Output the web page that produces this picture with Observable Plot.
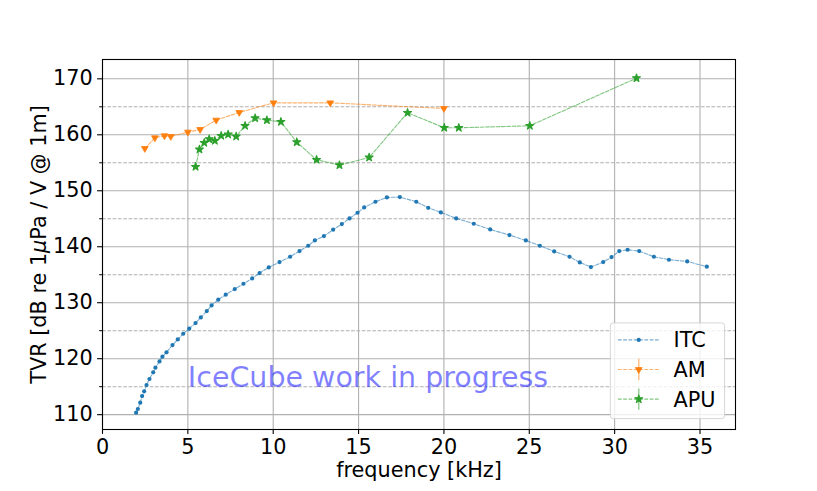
<!DOCTYPE html>
<html><head><meta charset="utf-8">
<script src="https://cdn.jsdelivr.net/npm/d3@7"></script>
<script src="https://cdn.jsdelivr.net/npm/@observablehq/plot@0.6"></script>
<style>html,body{margin:0;padding:0;background:#fff;} svg{display:block}</style>
</head><body><div id="chart"></div>
<script>
const itcFreq = [1.97,2.07,2.21,2.32,2.44,2.58,2.75,2.97,3.10,3.34,3.51,3.75,4.10,4.41,4.73,5.08,5.45,5.76,6.11,6.39,6.78,7.22,7.75,8.26,8.77,9.20,9.74,10.37,10.99,11.54,12.05,12.44,12.97,13.51,14.02,14.47,14.94,15.33,15.99,16.66,17.42,18.38,19.08,19.82,20.72,21.75,22.71,23.84,24.80,25.62,26.46,27.36,27.96,28.61,29.33,29.82,30.27,30.76,31.44,32.30,33.18,34.25,35.40];
const itcTVR = [110.36,111.01,112.14,113.33,114.17,115.30,116.37,117.56,118.39,119.52,120.36,121.13,122.44,123.45,124.46,125.36,126.37,127.38,128.51,129.52,130.54,131.43,132.44,133.39,134.34,135.30,136.31,137.26,138.21,139.22,140.18,141.13,141.90,143.04,144.05,145.06,146.07,147.02,148.04,148.81,148.87,148.04,146.96,146.13,145.06,144.11,143.09,142.08,141.13,140.18,139.17,138.21,137.20,136.37,137.26,138.15,139.22,139.46,139.22,138.21,137.68,137.38,136.43];
const amFreq = [2.48,3.07,3.63,4.00,5.00,5.72,6.66,8.01,10.02,13.34,20.00];
const amTVR = [157.56,159.46,159.82,159.70,160.48,160.95,162.62,163.99,165.71,165.71,164.70];
const apuFreq = [5.45,5.68,5.96,6.25,6.58,6.95,7.36,7.83,8.35,8.94,9.63,10.45,11.38,12.54,13.88,15.62,17.87,20.02,20.87,25.03,31.28];
const apuTVR = [154.29,157.38,158.57,159.23,158.93,159.82,160.06,159.70,161.61,162.98,162.62,162.32,158.69,155.54,154.58,155.95,163.93,161.25,161.25,161.61,170.12];
const xTicks = [0,5,10,15,20,25,30,35];
const yTicks = [110,120,130,140,150,160,170];
const yMinorTicks = [115,125,135,145,155,165];
const seriesNames = ["ITC","AM","APU"];
const seriesColors = ["#1f77b4","#ff7f0e","#2ca02c"];
const xLabel = "frequency [kHz]";
const yLabel = "TVR [dB re 1μPa / V @ 1m]";
const watermarkText = "IceCube work in progress";
const watermarkAt = [5, 115];

const itc = itcFreq.map((f,i)=>({f, v: itcTVR[i]}));
const am = amFreq.map((f,i)=>({f, v: amTVR[i]}));
const apu = apuFreq.map((f,i)=>({f, v: apuTVR[i]}));

const W=817, H=491, mL=102, mR=82, mT=59, mB=62;
const font = "DejaVu Sans, sans-serif";
const fs = 20.8;
const dash = "3.7,1.6";
const grid = "#b0b0b0";
const [cI, cA, cP] = seriesColors;

const chart = Plot.plot({
  width: W, height: H,
  marginLeft: mL, marginRight: mR, marginTop: mT, marginBottom: mB,
  style: {fontFamily: font, background: "white", color: "black", overflow: "visible"},
  x: {domain: [0, 37.08]},
  y: {domain: [107.35, 173.45]},
  marks: [
    Plot.ruleX(xTicks, {stroke: grid, strokeWidth: 1.1}),
    Plot.ruleY(yTicks, {stroke: grid, strokeWidth: 1.1}),
    Plot.ruleY(yMinorTicks, {stroke: grid, strokeWidth: 1.1, strokeDasharray: dash}),
    Plot.line(itc, {x: "f", y: "v", stroke: cI, strokeWidth: 1.1, strokeDasharray: dash, strokeOpacity: 0.6}),
    Plot.dot(itc, {x: "f", y: "v", fill: cI, r: 2.1}),
    Plot.line(am, {x: "f", y: "v", stroke: cA, strokeWidth: 1.1, strokeDasharray: dash, strokeOpacity: 0.6}),
    Plot.dot(am, {x: "f", y: "v", fill: cA, stroke: cA, strokeWidth: 0.8, symbol: "triangle", rotate: 180, r: 2.5}),
    Plot.line(apu, {x: "f", y: "v", stroke: cP, strokeWidth: 1.1, strokeDasharray: dash, strokeOpacity: 0.6}),
    Plot.dot(apu, {x: "f", y: "v", fill: cP, stroke: cP, strokeWidth: 1.1, strokeLinejoin: "round", symbol: "star", r: 2.5}),
    Plot.text([watermarkText], {x: () => watermarkAt[0], y: () => watermarkAt[1], text: d => d, textAnchor: "start", lineAnchor: "bottom", fontSize: 28.5, fill: "blue", fillOpacity: 0.5}),
    Plot.frame({stroke: "black", strokeWidth: 1.1}),
    Plot.axisX(xTicks, {tickSize: 4.9, tickPadding: 4.9, fontSize: fs, label: null, strokeWidth: 1.1}),
    Plot.axisY(yTicks, {tickSize: 4.9, tickPadding: 4.9, fontSize: fs, label: null, strokeWidth: 1.1}),
    Plot.axisY(yMinorTicks, {tickSize: 2.8, text: null, label: null, strokeWidth: 1}),
    Plot.text([xLabel], {frameAnchor: "bottom", dy: 47.2, lineAnchor: "bottom", textAnchor: "middle", fontSize: fs, text: d => d}),
    Plot.text([yLabel], {frameAnchor: "left", dx: -57, rotate: -90, lineAnchor: "bottom", textAnchor: "middle", fontSize: fs, text: d => d})
  ]
});

// italic mu in the y label (matplotlib mathtext)
d3.select(chart).selectAll("text").filter(function(){ return this.textContent === yLabel; }).each(function(){
  const t = d3.select(this);
  const parts = yLabel.split("μ");
  t.text(null);
  t.append("tspan").text(parts[0]);
  t.append("tspan").attr("font-style", "italic").text("μ");
  t.append("tspan").text(parts[1]);
});

// legend (lower right, inside axes)
const svg = d3.select(chart);
const frameR = W - mR, frameB = H - mB;
const pad = 10.4;
const bw = 114.3, bh = 95.7;
const bx = frameR - pad - bw, by = frameB - pad - bh;
const lg = svg.append("g").attr("font-family", font).attr("font-size", fs).attr("text-anchor", "start");
lg.append("rect").attr("x", bx).attr("y", by).attr("width", bw).attr("height", bh)
  .attr("rx", 3).attr("fill", "white").attr("fill-opacity", 0.8)
  .attr("stroke", "#cccccc").attr("stroke-opacity", 0.8).attr("stroke-width", 1);
const symbols = [d3.symbolCircle, d3.symbolTriangle, d3.symbolStar];
const sizes = [Math.PI*2.1*2.1, Math.PI*2.5*2.5, Math.PI*2.5*2.5];
const strokeWs = [0, 0.8, 1.1];
const rotations = [0, 180, 0];
seriesNames.forEach((name, i) => {
  const cy = by + 17 + i * 29.6;
  const x0 = bx + 7.6, x1 = bx + 49.3, xm = (x0 + x1) / 2;
  const col = seriesColors[i];
  lg.append("line").attr("x1", x0).attr("x2", x1).attr("y1", cy).attr("y2", cy)
    .attr("stroke", col).attr("stroke-width", 1.1).attr("stroke-dasharray", dash).attr("stroke-opacity", 0.6);
  if (i > 0) {
    lg.append("line").attr("x1", xm).attr("x2", xm).attr("y1", cy - 10.7).attr("y2", cy + 10.7)
      .attr("stroke", col).attr("stroke-width", 1.5).attr("stroke-opacity", 0.5);
  }
  lg.append("path").attr("d", d3.symbol(symbols[i], sizes[i])())
    .attr("transform", `translate(${xm},${cy}) rotate(${rotations[i]})`)
    .attr("fill", col).attr("stroke", col).attr("stroke-width", strokeWs[i]).attr("stroke-linejoin", "round");
  lg.append("text").attr("x", bx + 63.3).attr("y", cy).attr("dy", "0.36em").attr("fill", "black").text(name);
});

document.getElementById("chart").appendChild(chart);
</script>
</body></html>
